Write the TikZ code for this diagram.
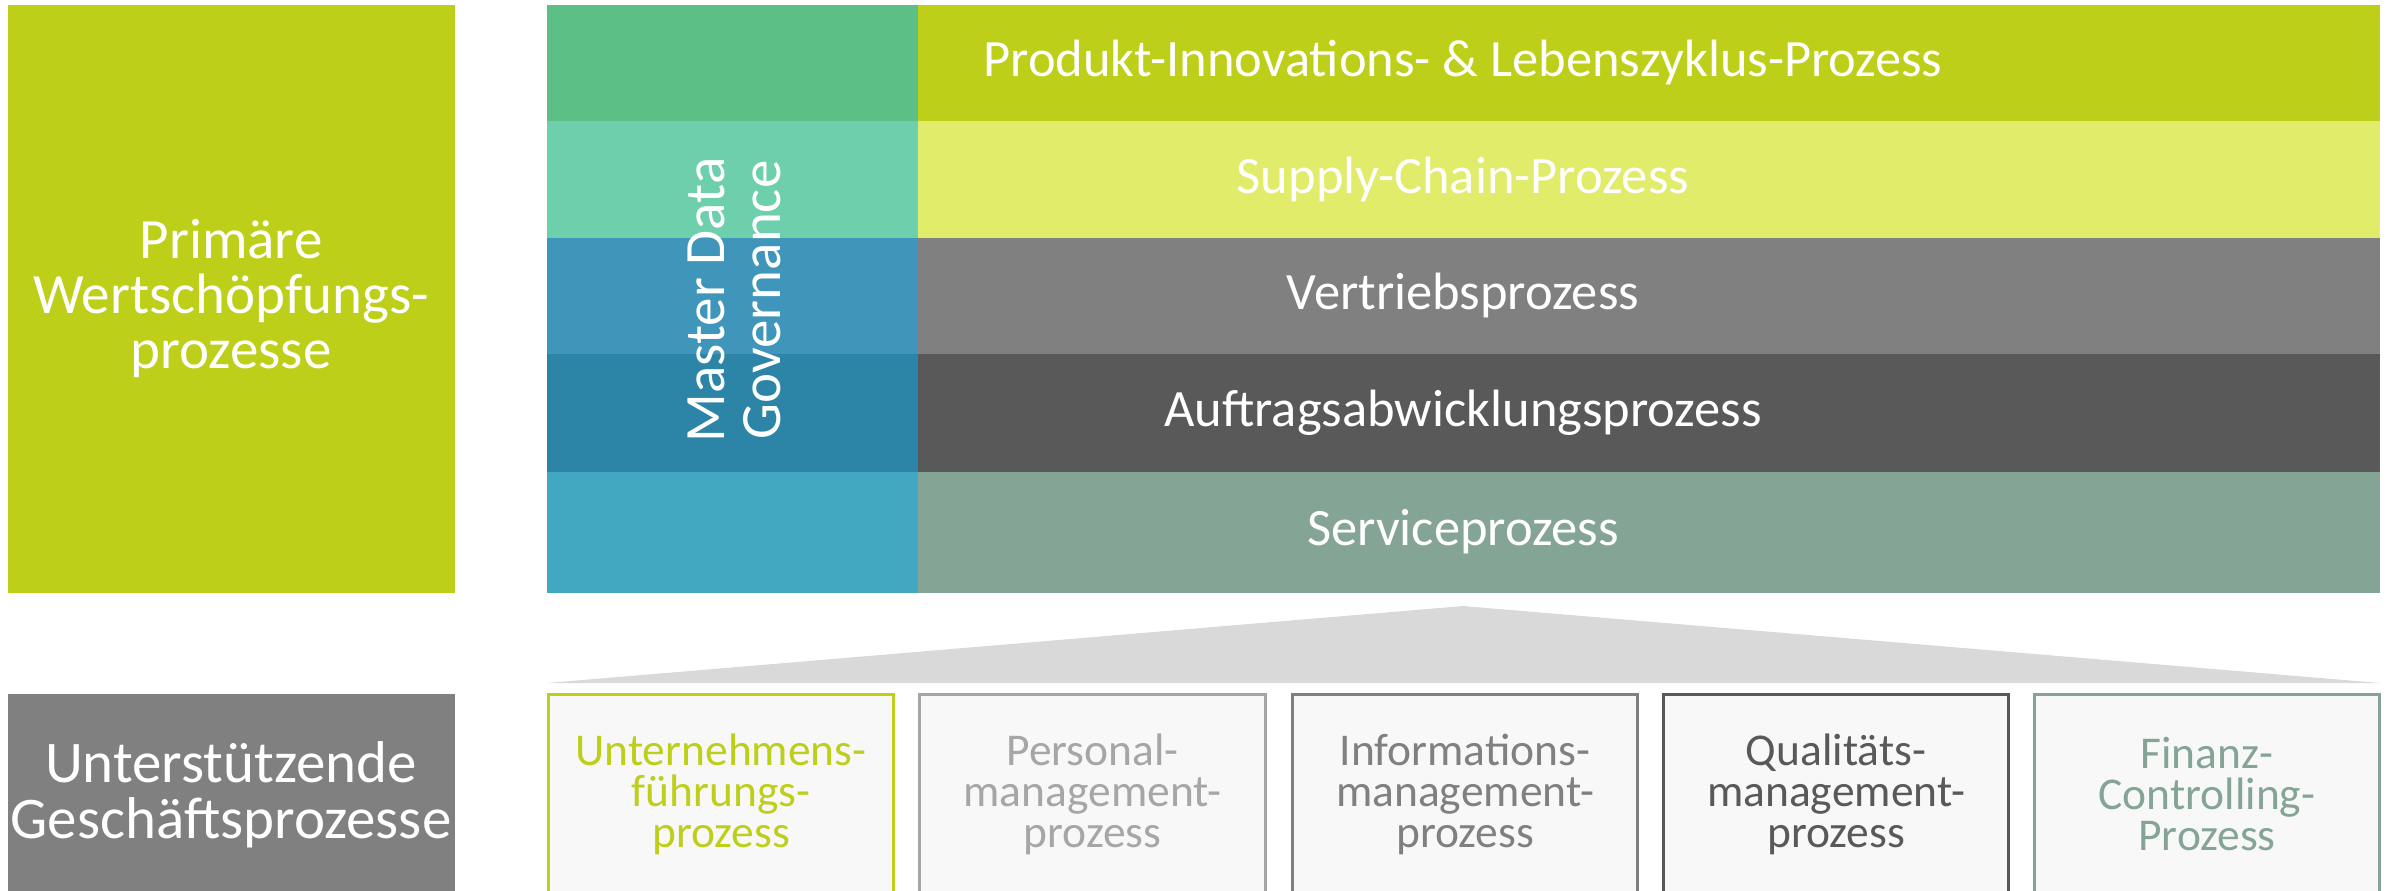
\documentclass[tikz,border=0pt]{standalone}
\usepackage{fontspec}
\setmainfont{Carlito}
\definecolor{lime}{HTML}{BDCF19}
\definecolor{limelight}{HTML}{E0EC6A}
\definecolor{grayA}{HTML}{808080}
\definecolor{grayB}{HTML}{595959}
\definecolor{sage}{HTML}{84A595}
\definecolor{mdA}{HTML}{5CBF86}
\definecolor{mdB}{HTML}{6ECFAD}
\definecolor{mdC}{HTML}{3F96BA}
\definecolor{mdD}{HTML}{2C84A6}
\definecolor{mdE}{HTML}{42A8C2}
\definecolor{boxfill}{HTML}{F8F8F8}
\definecolor{trap}{HTML}{D9D9D9}
\definecolor{lightgray}{HTML}{A6A6A6}
\begin{document}
\begin{tikzpicture}[x=1pt,y=-1pt,
  rowtext/.style={text=white,inner sep=0pt,font=\fontsize{52.5}{54}\selectfont},
  sidetext/.style={text=white,inner sep=0pt,align=center,font=\fontsize{57}{55}\selectfont},
  suptext/.style={inner sep=0pt,align=center,font=\fontsize{45.5}{41}\selectfont},
  supbox/.style={line width=3pt,fill=boxfill}]
\useasboundingbox (0,0) rectangle (2395,891);
\clip (0,0) rectangle (2395,891);
% left labels
\fill[lime] (8,5) rectangle (455,593);
\node[sidetext] (prim) at (231,298) {Primäre\\Wertschöpfungs-\\prozesse};
\fill[grayA] (8,694) rectangle (455,900);
\node[sidetext,font=\fontsize{59}{56}\selectfont] (unt) at (231,795) {Unterstützende\\Geschäftsprozesse};
% master data column
\fill[mdA] (547,5) rectangle (918,121);
\fill[mdB] (547,121) rectangle (918,238);
\fill[mdC] (547,238) rectangle (918,354);
\fill[mdD] (547,354) rectangle (918,472);
\fill[mdE] (547,472) rectangle (918,593);
% process rows
\fill[lime] (918,5) rectangle (2380,121);
\fill[limelight] (918,121) rectangle (2380,238);
\fill[grayA] (918,238) rectangle (2380,354);
\fill[grayB] (918,354) rectangle (2380,472);
\fill[sage] (918,472) rectangle (2380,593);
\node[rowtext] (r1) at (1463,63) {Produkt-Innovations- \& Lebenszyklus-Prozess};
\node[rowtext] (r2) at (1463,180) {Supply-Chain-Prozess};
\node[rowtext] (r3) at (1463,296) {Vertriebsprozess};
\node[rowtext] (r4) at (1463,413) {Auftragsabwicklungsprozess};
\node[rowtext] (r5) at (1463,532) {Serviceprozess};
\node[text=white,inner sep=0pt,align=center,rotate=90,font=\fontsize{57}{56}\selectfont] (mdg) at (734,300) {Master Data\\Governance};
% trapezoid
\fill[trap] (547,683) -- (1463,606) -- (2380,683) -- cycle;
% support boxes
\draw[supbox,draw=lime] (548.5,694.5) rectangle (893.5,900);
\draw[supbox,draw=lightgray] (919.5,694.5) rectangle (1265.5,900);
\draw[supbox,draw=grayA] (1292.5,694.5) rectangle (1637.5,900);
\draw[supbox,draw=grayB] (1663.5,694.5) rectangle (2008.5,900);
\draw[supbox,draw=sage] (2034.5,694.5) rectangle (2379.5,900);
\node[suptext,text=lime] (s1) at (721,794) {Unternehmens-\\führungs-\\prozess};
\node[suptext,text=lightgray] (s2) at (1092.5,794) {Personal-\\management-\\prozess};
\node[suptext,text=grayA] (s3) at (1465,794) {Informations-\\management-\\prozess};
\node[suptext,text=grayB] (s4) at (1836,794) {Qualitäts-\\management-\\prozess};
\node[suptext,text=sage] (s5) at (2207,794) {Finanz-\\Controlling-\\Prozess};
\end{tikzpicture}
\end{document}
